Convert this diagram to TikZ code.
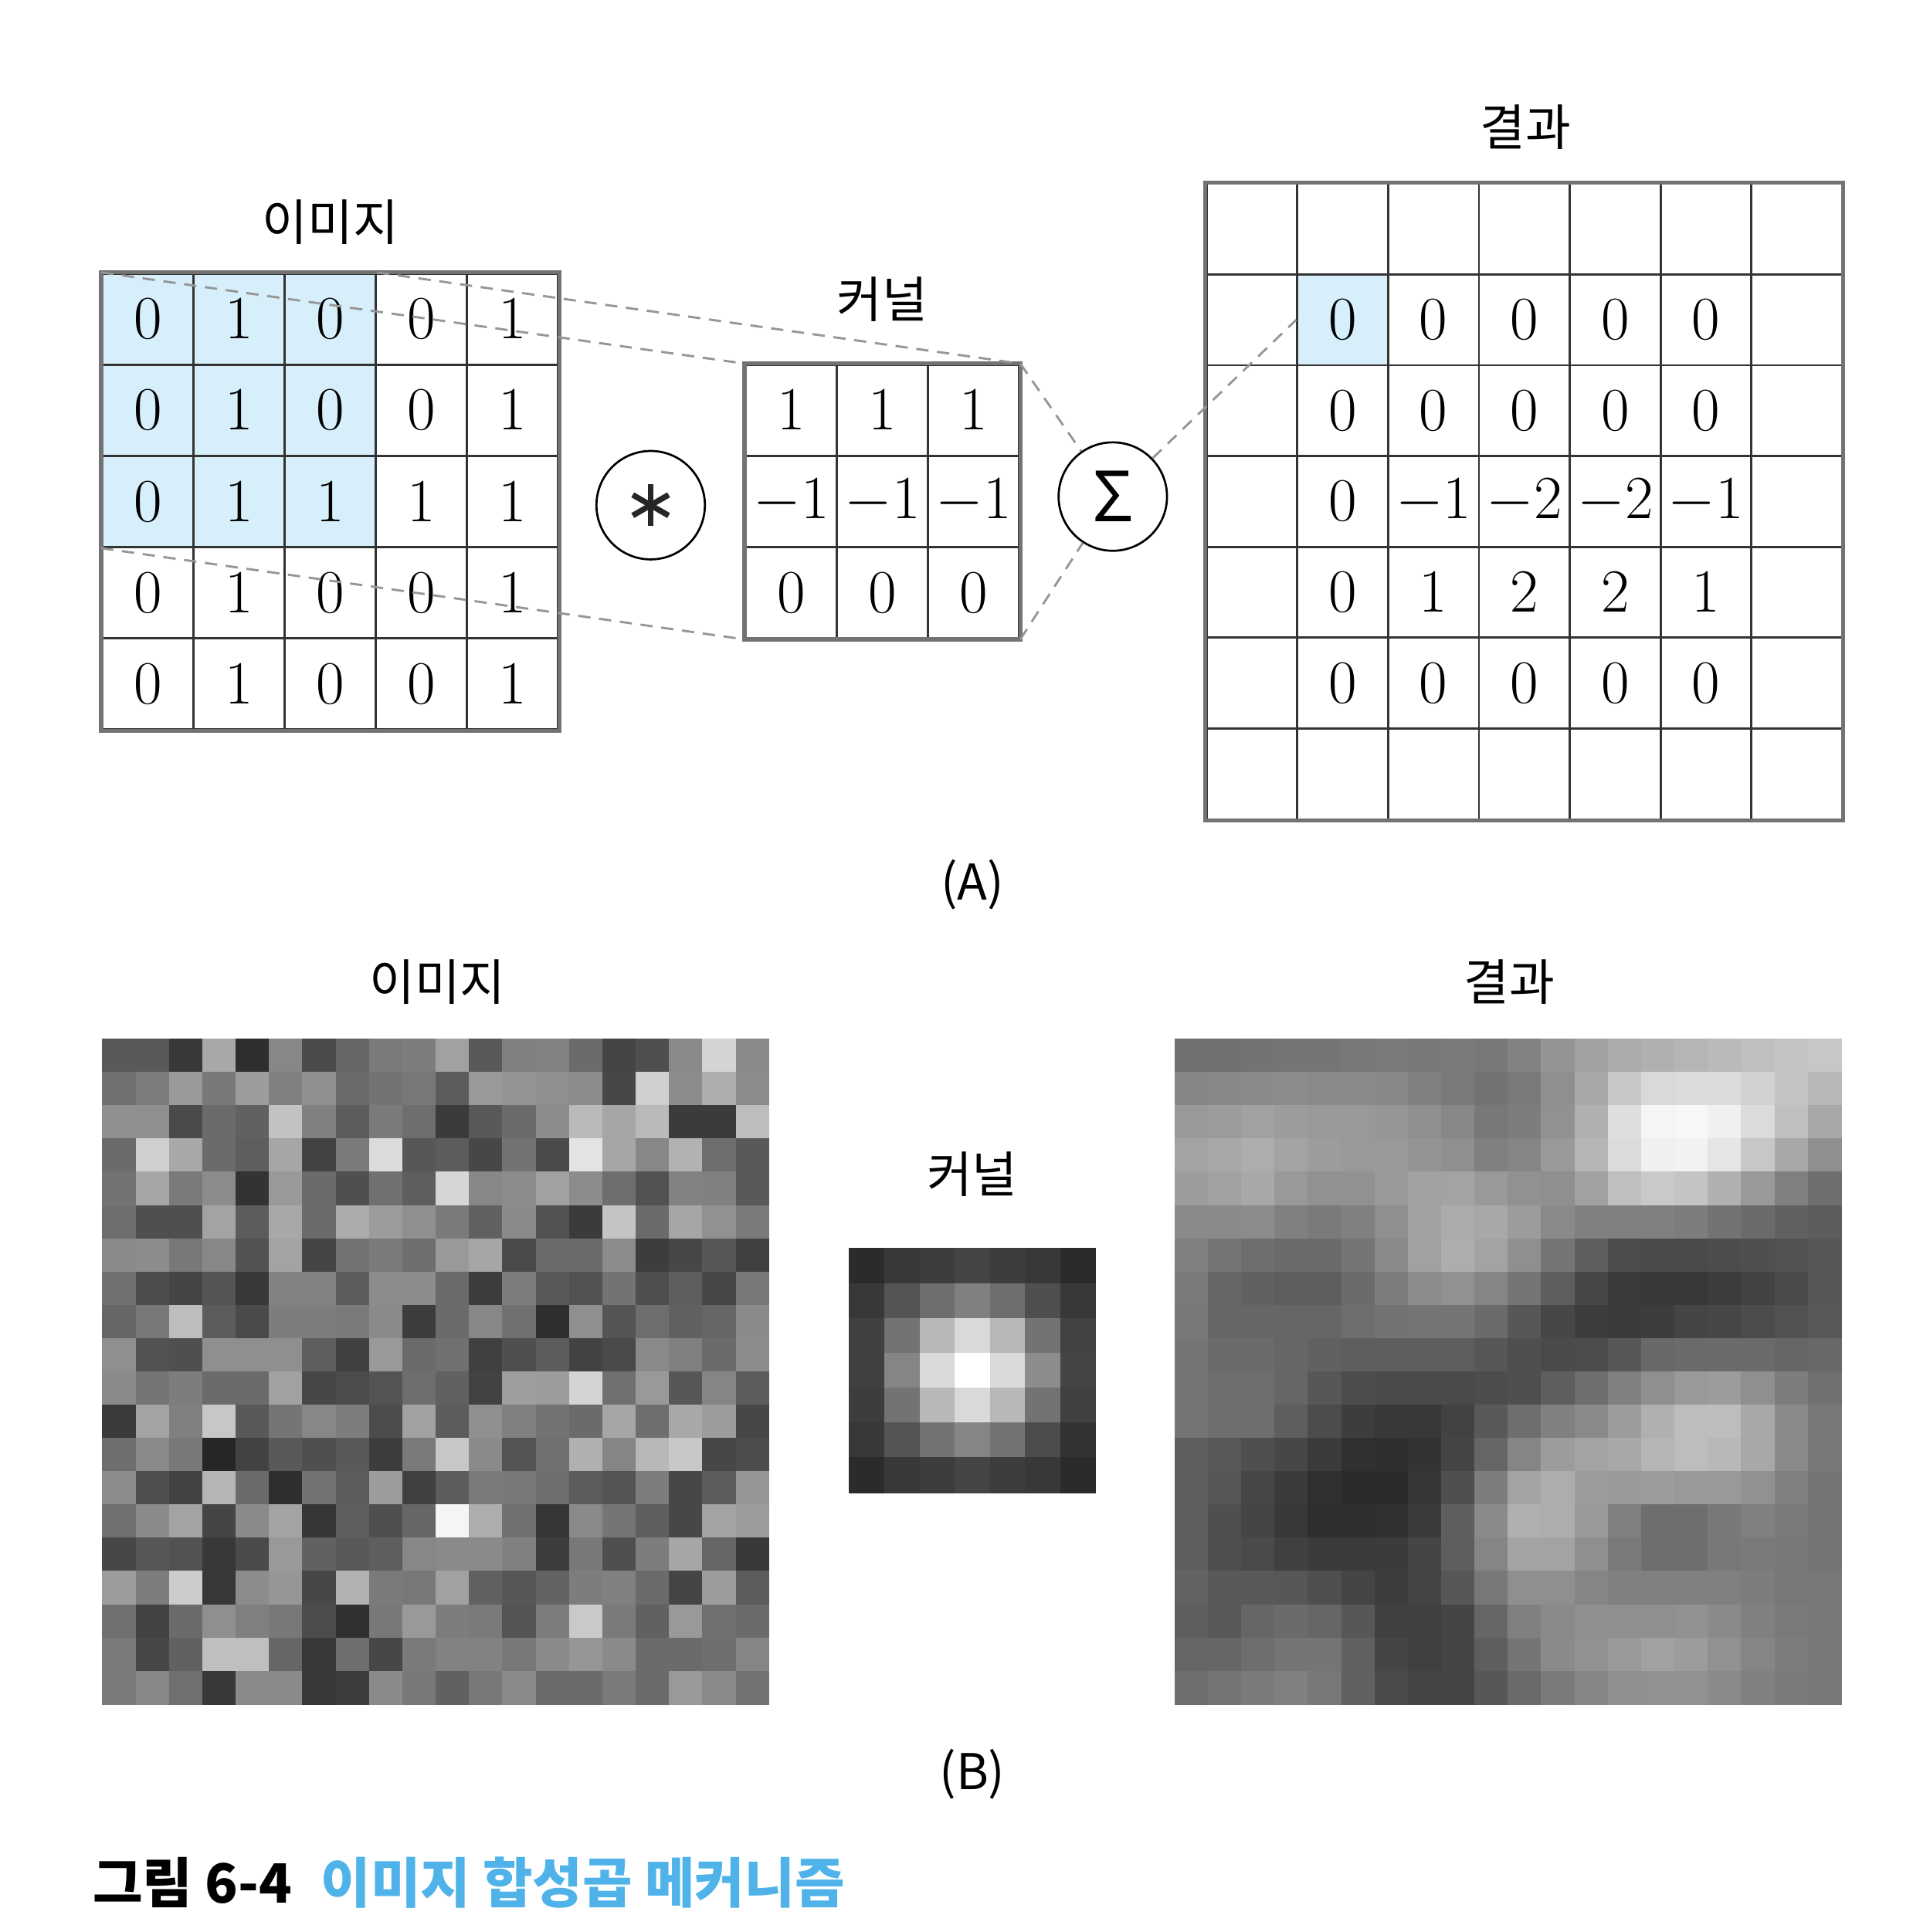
\documentclass[tikz,border=0pt]{standalone}
\usepackage{fontspec}
\usepackage{amsmath}
\newfontfamily\hangul{Noto Sans CJK KR}
\definecolor{winblue}{RGB}{214,239,250}
\definecolor{capblue}{RGB}{79,179,234}
\definecolor{guidegray}{RGB}{150,150,150}

\begin{document}
\begin{tikzpicture}[x=0.5pt,y=-0.5pt,
  cell/.style={draw=black!80,line width=0.9pt,minimum size=37pt,inner sep=0pt,font=\fontsize{24}{24}\selectfont},
  rescell/.style={cell,minimum size=36.85pt},
  gridframe/.style={draw=black!55,line width=1.6pt},
  guide/.style={draw=guidegray,line width=0.9pt,dash pattern=on 5pt off 3.5pt},
  opcircle/.style={draw,circle,line width=0.85pt,minimum size=44pt,inner sep=0pt},
  astmark/.style={path picture={
    \foreach \a in {90,30,150}
      \draw[line width=2.3pt,black!85] ([shift={(\a:8.4pt)}]path picture bounding box.center)
        -- ([shift={(\a+180:8.4pt)}]path picture bounding box.center);}},
  ktitle/.style={font=\hangul\fontsize{20}{20}\selectfont,inner sep=0pt},
  capnum/.style={font=\hangul\bfseries\fontsize{22}{22}\selectfont,inner sep=0pt,anchor=west},
  captext/.style={capnum,text=capblue}]
\useasboundingbox (0,0) rectangle (1552,1568);

% (A) image with the 3x3 window
\fill[winblue] (83,222) rectangle (305,444);
\foreach \rowvals [count=\r] in {{0,1,0,0,1},{0,1,0,0,1},{0,1,1,1,1},{0,1,0,0,1},{0,1,0,0,1}}
  \foreach \v [count=\c] in \rowvals
    \node[cell] (img-\r-\c) at ({46+74*\c},{185+74*\r}) {$\v$};
\draw[gridframe] (img-1-1.north west) rectangle (img-5-5.south east);
\node[ktitle] (img-title) at (268,180) {이미지};

% kernel
\foreach \rowvals [count=\r] in {{1,1,1},{-1,-1,-1},{0,0,0}}
  \foreach \v [count=\c] in \rowvals
    \node[cell] (ker-\r-\c) at ({568+74*\c},{259+74*\r}) {$\v$};
\draw[gridframe] (ker-1-1.north west) rectangle (ker-3-3.south east);
\node[ktitle] (ker-title) at (716,243) {커널};

% guides from window to kernel
\draw[guide] (img-1-1.north west) -- (ker-1-1.north west);
\draw[guide] (img-1-3.north east) -- (ker-1-3.north east);
\draw[guide] (img-3-1.south west) -- (ker-3-1.south west);

\node[opcircle,astmark] (conv) at (528,410) {};
\node[opcircle,font=\hangul\fontsize{28}{28}\selectfont] (sigma) at (903,403) {Σ};

% result
\fill[winblue] (1052.7,222.7) rectangle (1126.4,296.4);
\foreach \rowvals [count=\r] in {{{},{},{},{},{},{},{}},{{},0,0,0,0,0,{}},{{},0,0,0,0,0,{}},{{},0,-1,-2,-2,-1,{}},{{},0,1,2,2,1,{}},{{},0,0,0,0,0,{}},{{},{},{},{},{},{},{}}}
  \foreach \v [count=\c] in \rowvals
    \node[rescell] (res-\r-\c) at ({979+73.7*(\c-0.5)},{149+73.7*(\r-0.5)}) {$\v$};
\draw[gridframe] (res-1-1.north west) rectangle (res-7-7.south east);
\node[ktitle] (res-title) at (1238,103) {결과};

\draw[guide] (ker-1-3.north east) -- (sigma);
\draw[guide] (ker-3-3.south east) -- (sigma);
\draw[guide] (sigma) -- (res-2-2.west);

\node[ktitle] (panel-a) at (789,718) {(A)};

% (B) image
\foreach \rowvals [count=\r] in {
  {35,35,22,66,18,53,29,40,48,49,63,35,50,51,42,27,31,54,83,54},
  {44,49,60,47,61,50,56,42,45,47,36,60,58,56,55,28,81,55,68,55},
  {56,56,29,42,38,76,50,36,48,43,23,35,42,55,73,65,73,23,23,74},
  {42,81,66,42,37,65,26,48,86,34,36,28,45,29,89,65,53,70,43,35},
  {45,65,48,55,20,60,42,31,44,37,84,53,55,63,55,43,32,51,50,35},
  {43,31,31,64,36,66,42,67,61,56,48,38,54,32,23,77,42,65,57,48},
  {54,55,47,53,32,64,27,45,48,43,60,65,29,42,42,55,24,28,34,25},
  {44,30,27,33,22,51,51,36,55,55,42,24,49,35,32,45,31,37,28,47},
  {40,47,74,36,29,49,49,48,54,24,42,53,44,18,56,33,43,38,40,54},
  {56,32,31,56,56,56,37,25,60,42,44,25,31,36,26,29,54,50,42,55},
  {54,46,49,42,42,63,28,30,33,43,38,26,62,61,83,44,60,34,52,36},
  {23,64,50,78,35,46,53,49,30,63,36,56,50,45,42,65,43,66,61,28},
  {43,54,47,15,26,35,31,35,24,48,78,54,33,44,69,52,72,78,28,30},
  {55,31,26,71,42,18,45,36,61,25,36,48,47,43,36,33,49,28,36,59},
  {44,54,64,27,54,64,21,37,31,40,96,68,44,21,54,46,37,28,64,61},
  {28,34,32,22,29,60,38,35,37,53,54,54,50,24,47,31,49,65,40,22},
  {61,49,80,22,55,59,28,70,48,47,63,38,34,39,49,50,42,27,61,36},
  {44,26,42,56,50,47,30,19,47,60,49,48,33,49,79,48,38,60,44,42},
  {48,28,38,75,75,40,22,43,28,48,51,51,47,54,59,54,42,42,43,52},
  {48,53,44,22,54,54,22,24,54,47,38,47,54,42,42,48,42,60,54,45}}
  \foreach \v [count=\c] in \rowvals
    \fill[white!\v!black] ({83+27.05*(\c-1)},{843+27*(\r-1)}) rectangle +(27.5,27.5);
\node[ktitle] (photo-title) at (355,797) {이미지};

% (B) kernel
\foreach \rowvals [count=\r] in {
  {17,22,24,27,24,22,17},
  {22,33,43,50,43,31,22},
  {25,45,72,85,72,45,26},
  {25,52,85,100,85,55,27},
  {24,45,72,85,72,45,25},
  {22,33,45,52,45,30,20},
  {17,22,24,27,24,22,17}}
  \foreach \v [count=\c] in \rowvals
    \fill[white!\v!black] ({689+28.57*(\c-1)},{1013+28.3*(\r-1)}) rectangle +(29,29);
\node[ktitle] (blur-title) at (789,953) {커널};

% (B) result
\foreach \rowvals [count=\r] in {
  {44,44,45,46,46,47,48,47,48,47,51,58,63,67,69,71,73,75,77,78},
  {52,53,54,55,54,54,53,50,48,45,48,56,66,78,85,86,86,82,77,72},
  {60,61,63,61,60,60,59,56,53,47,49,57,69,87,96,97,94,86,75,66},
  {64,66,68,64,61,60,60,58,56,50,52,60,71,86,94,95,90,78,66,56},
  {61,63,66,60,57,57,60,63,64,60,57,56,63,75,79,77,69,60,50,43},
  {54,54,55,50,48,50,56,63,67,66,61,54,50,50,50,49,45,42,38,36},
  {50,46,43,42,42,46,54,63,68,64,56,46,37,30,29,29,30,31,32,34},
  {48,40,38,37,37,42,49,55,57,52,46,37,28,23,22,22,24,26,29,34},
  {47,40,40,40,40,43,45,46,46,42,34,28,24,23,24,27,28,30,32,35},
  {46,42,42,40,38,37,37,37,37,34,31,29,30,34,41,42,42,42,40,41},
  {46,43,43,40,34,30,29,29,29,30,31,37,43,50,56,60,61,56,49,44},
  {46,43,43,37,30,24,22,22,26,35,43,50,54,61,69,74,74,66,54,47},
  {37,35,31,28,23,19,18,20,27,40,52,61,64,66,71,74,72,66,54,47},
  {37,34,28,23,19,17,17,21,31,49,64,68,61,60,61,60,60,57,50,46},
  {37,31,27,22,18,18,19,23,37,54,69,68,60,50,43,43,47,50,48,46},
  {37,31,29,25,23,23,23,27,37,52,64,64,56,48,43,43,47,48,47,46},
  {39,35,35,34,31,27,24,27,34,47,56,56,52,50,50,50,50,49,47,47},
  {37,35,40,42,40,34,25,25,27,40,50,54,56,56,56,57,54,50,48,47},
  {40,40,43,46,46,38,27,25,27,37,46,54,57,60,63,61,57,52,49,47},
  {43,46,48,50,47,38,29,27,27,34,42,48,52,56,57,57,54,50,48,47}}
  \foreach \v [count=\c] in \rowvals
    \fill[white!\v!black] ({953+27.05*(\c-1)},{843+27*(\r-1)}) rectangle +(27.5,27.5);
\node[ktitle] (out-title) at (1225,797) {결과};

\node[ktitle] (panel-b) at (789,1440) {(B)};

% caption
\node[capnum] (cap-num) at (75,1528) {그림 6-4};
\node[captext] (cap-text) at (260,1528) {이미지 합성곱 메커니즘};
\end{tikzpicture}
\end{document}
